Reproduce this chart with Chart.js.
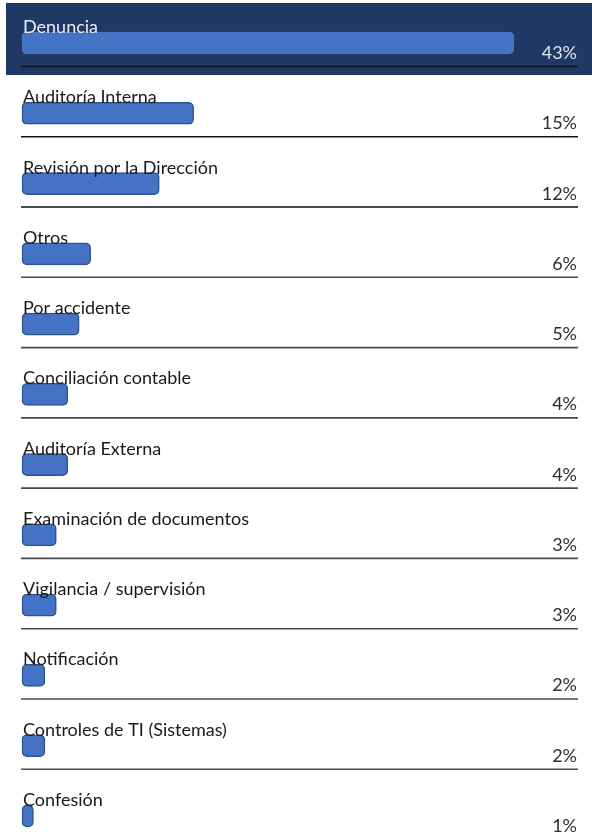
<!DOCTYPE html>
<html>
<head>
<meta charset="utf-8">
<script src="https://cdn.jsdelivr.net/npm/chart.js@4/dist/chart.umd.min.js"></script>
<style>
  html, body { margin: 0; padding: 0; background: #ffffff; }
  #wrap { width: 592px; height: 839px; }
</style>
</head>
<body>
<div id="wrap"><canvas id="c" width="592" height="839"></canvas></div>
<script>
// Detection methods and their share of cases (%)
const categories = [
  'Denuncia',
  'Auditoría Interna',
  'Revisión por la Dirección',
  'Otros',
  'Por accidente',
  'Conciliación contable',
  'Auditoría Externa',
  'Examinación de documentos',
  'Vigilancia / supervisión',
  'Notificación',
  'Controles de TI (Sistemas)',
  'Confesión'
];
const shares = [43, 15, 12, 6, 5, 4, 4, 3, 3, 2, 2, 1];
const shareLabels = shares.map(v => v + '%');

const FONT = 'Lato, "Open Sans", sans-serif';
const NAVY = '#1f3864';

// Draws the highlighted first row band behind the bars
const bandPlugin = {
  id: 'band',
  beforeDatasetsDraw(chart) {
    const ctx = chart.ctx;
    const y = chart.scales.y.getPixelForValue(0);
    ctx.save();
    ctx.fillStyle = NAVY;
    ctx.fillRect(6, y - 40, chart.width - 6, 72);
    ctx.restore();
  }
};

// Category names above each bar, share at the right, separator rules
const rowTextPlugin = {
  id: 'rowText',
  afterDatasetsDraw(chart) {
    const ctx = chart.ctx;
    const ys = chart.scales.y;
    const area = chart.chartArea;
    ctx.save();
    categories.forEach((name, i) => {
      const y = ys.getPixelForValue(i);
      const top = i === 0;
      ctx.font = '18px ' + FONT;
      ctx.textBaseline = 'alphabetic';
      ctx.textAlign = 'left';
      ctx.fillStyle = top ? '#e8ecf4' : '#1a1a1a';
      ctx.fillText(name, area.left + 1, y - 10);
      ctx.textAlign = 'right';
      ctx.fillStyle = top ? '#dfe4ee' : '#2e2e2e';
      ctx.fillText(shareLabels[i], area.right - 1, y + 16);
      if (i < categories.length - 1) {
        ctx.strokeStyle = i < 3 ? '#111111' : '#4a4a4a';
        ctx.lineWidth = 1.6;
        ctx.beginPath();
        ctx.moveTo(area.left - 1, y + 23.5);
        ctx.lineTo(area.right, y + 23.5);
        ctx.stroke();
      }
    });
    ctx.restore();
  }
};

new Chart(document.getElementById('c'), {
  type: 'bar',
  data: {
    labels: categories,
    datasets: [{
      data: shares,
      backgroundColor: '#4472c4',
      borderColor: shares.map((v, i) => i === 0 ? '#4a78c8' : '#2f528f'),
      borderWidth: 1.5,
      borderSkipped: false,
      borderRadius: 5,
      barThickness: 22,
      clip: false
    }]
  },
  options: {
    indexAxis: 'y',
    responsive: false,
    animation: false,
    layout: { padding: { left: 22, right: 14, top: 43, bottom: 23 } },
    plugins: {
      legend: { display: false },
      tooltip: { enabled: false }
    },
    scales: {
      x: { display: false, min: 0, max: 48.6 },
      y: { display: false, offset: false }
    }
  },
  plugins: [bandPlugin, rowTextPlugin]
});
</script>
</body>
</html>
